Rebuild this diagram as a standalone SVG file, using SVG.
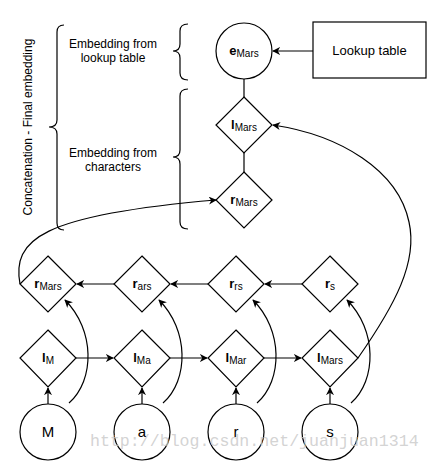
<svg xmlns="http://www.w3.org/2000/svg" width="433" height="467" viewBox="0 0 433 467">
<defs>
<marker id="ah" viewBox="0 0 10 10" refX="9" refY="5" markerWidth="8" markerHeight="8" orient="auto" markerUnits="userSpaceOnUse">
<path d="M0,0 L10,5 L0,10 L3,5 z" fill="#000"/>
</marker>
<style>
.s{fill:#fff;stroke:#000;stroke-width:1.2}
.c{fill:none;stroke:#000;stroke-width:1.2}
.a{fill:none;stroke:#000;stroke-width:1.2;marker-end:url(#ah)}
text{font-family:"Liberation Sans",Arial,sans-serif;fill:#000}
.lbl{font-size:12px;text-anchor:middle}
.b{font-weight:bold;font-size:13px}
.sub{font-size:10px}
.big{font-size:15px;text-anchor:middle}
</style>
</defs>
<rect width="433" height="467" fill="#fff"/>

<!-- braces and annotations -->
<g id="annotations">
<path class="c" d="M64,25 Q57,25 57,32 L57,120 Q57,127 49,127 Q57,127 57,134 L57,223 Q57,230 64,230"/>
<path class="c" d="M188,24 Q180,24 180,31 L180,44 Q180,51 173,51 Q180,51 180,58 L180,73 Q180,80 188,80"/>
<path class="c" d="M188,89 Q180,89 180,96 L180,150 Q180,157 173,157 Q180,157 180,164 L180,222 Q180,229 188,229"/>
<text class="lbl" transform="translate(32,127) rotate(-90)">Concatenation - Final embedding</text>
<text class="lbl" x="113" y="48">Embedding from</text>
<text class="lbl" x="113" y="62">lookup table</text>
<text class="lbl" x="113" y="157">Embedding from</text>
<text class="lbl" x="113" y="171">characters</text>
</g>

<!-- connectors -->
<g id="connectors">
<line class="a" x1="313" y1="51" x2="273" y2="51"/>
<line class="c" x1="244" y1="79" x2="244" y2="97"/>
<line class="c" x1="244" y1="153" x2="244" y2="172"/>
<line class="a" x1="302" y1="284" x2="265" y2="284"/>
<line class="a" x1="208" y1="284" x2="171" y2="284"/>
<line class="a" x1="114" y1="284" x2="77" y2="284"/>
<line class="a" x1="76" y1="358" x2="113" y2="358"/>
<line class="a" x1="170" y1="358" x2="207" y2="358"/>
<line class="a" x1="264" y1="358" x2="301" y2="358"/>
<line class="a" x1="48" y1="404" x2="48" y2="388"/>
<line class="a" x1="142" y1="404" x2="142" y2="388"/>
<line class="a" x1="236" y1="404" x2="236" y2="388"/>
<line class="a" x1="330" y1="404" x2="330" y2="388"/>
<path class="a" d="M69,403 C95,380 95,330 65,300"/>
<path class="a" d="M163,403 C189,380 189,330 159,300"/>
<path class="a" d="M257,403 C283,380 283,330 253,300"/>
<path class="a" d="M351,403 C377,380 377,330 347,300"/>
<path class="a" d="M20,284 C12,240 40,215 216,200"/>
<path class="a" d="M358,358 C395,305 418,262 409,222 C398,170 340,135 273,125"/>
</g>

<g id="lookup"><rect class="s" x="313" y="22" width="113" height="56"/><text class="lbl" x="369.5" y="55" style="font-size:13px">Lookup table</text></g>
<g id="eMars"><circle class="s" cx="244" cy="51" r="28"/><text x="244" y="55" text-anchor="middle"><tspan class="b">e</tspan><tspan class="sub" dy="2">Mars</tspan></text></g>
<g id="lMarsTop"><path class="s" d="M244,97 L272,125 L244,153 L216,125 z"/><text x="244" y="129" text-anchor="middle"><tspan class="b">l</tspan><tspan class="sub" dy="2">Mars</tspan></text></g>
<g id="rMarsTop"><path class="s" d="M244,172 L272,200 L244,228 L216,200 z"/><text x="244" y="204" text-anchor="middle"><tspan class="b">r</tspan><tspan class="sub" dy="2">Mars</tspan></text></g>

<g id="rMars"><path class="s" d="M48,256 L76,284 L48,312 L20,284 z"/><text x="48" y="288" text-anchor="middle"><tspan class="b">r</tspan><tspan class="sub" dy="2">Mars</tspan></text></g>
<g id="rars"><path class="s" d="M142,256 L170,284 L142,312 L114,284 z"/><text x="142" y="288" text-anchor="middle"><tspan class="b">r</tspan><tspan class="sub" dy="2">ars</tspan></text></g>
<g id="rrs"><path class="s" d="M236,256 L264,284 L236,312 L208,284 z"/><text x="236" y="288" text-anchor="middle"><tspan class="b">r</tspan><tspan class="sub" dy="2">rs</tspan></text></g>
<g id="rs"><path class="s" d="M330,256 L358,284 L330,312 L302,284 z"/><text x="330" y="288" text-anchor="middle"><tspan class="b">r</tspan><tspan class="sub" dy="2">s</tspan></text></g>

<g id="lM"><path class="s" d="M48,330 L76,358 L48,387 L20,358 z"/><text x="48" y="362" text-anchor="middle"><tspan class="b">l</tspan><tspan class="sub" dy="2">M</tspan></text></g>
<g id="lMa"><path class="s" d="M142,330 L170,358 L142,387 L114,358 z"/><text x="142" y="362" text-anchor="middle"><tspan class="b">l</tspan><tspan class="sub" dy="2">Ma</tspan></text></g>
<g id="lMar"><path class="s" d="M236,330 L264,358 L236,387 L208,358 z"/><text x="236" y="362" text-anchor="middle"><tspan class="b">l</tspan><tspan class="sub" dy="2">Mar</tspan></text></g>
<g id="lMars"><path class="s" d="M330,330 L358,358 L330,387 L302,358 z"/><text x="330" y="362" text-anchor="middle"><tspan class="b">l</tspan><tspan class="sub" dy="2">Mars</tspan></text></g>

<g id="cM"><circle class="s" cx="48" cy="432" r="28"/><text class="big" x="48" y="437">M</text></g>
<g id="ca"><circle class="s" cx="142" cy="432" r="28"/><text class="big" x="142" y="437">a</text></g>
<g id="cr"><circle class="s" cx="236" cy="432" r="28"/><text class="big" x="236" y="437">r</text></g>
<g id="cs"><circle class="s" cx="330" cy="432" r="28"/><text class="big" x="330" y="437">s</text></g>

<text x="90" y="446" style="font-family:'Liberation Mono',monospace;font-size:16.6px;fill:#c8c8c8;fill-opacity:0.8">http://blog.csdn.net/juanjuan1314</text>
</svg>
